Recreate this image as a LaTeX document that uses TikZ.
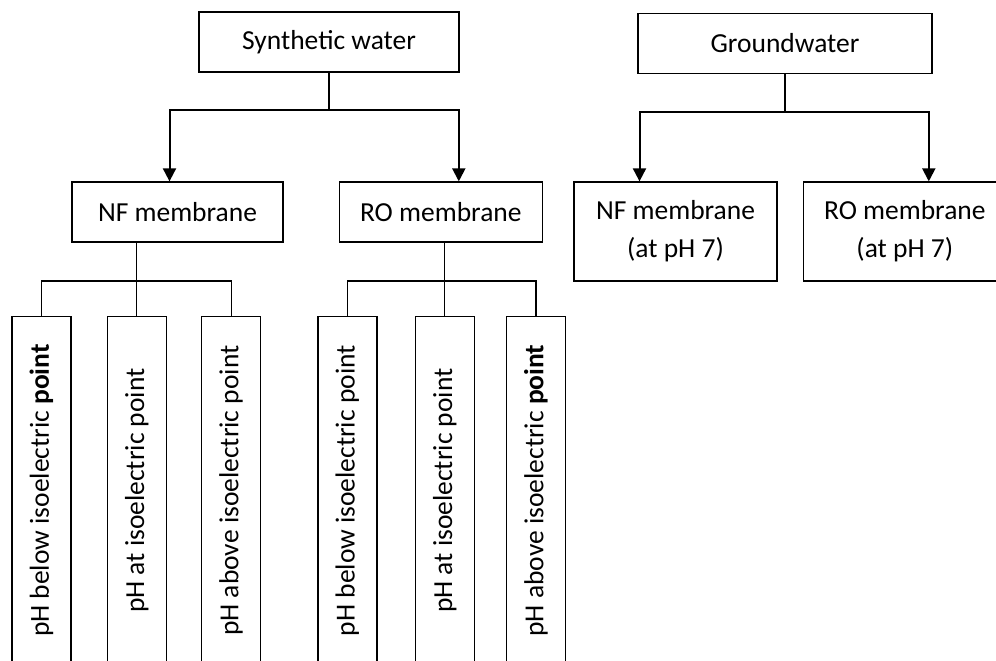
\documentclass[tikz,border=0pt]{standalone}
\usepackage{fontspec}
\setmainfont{Carlito}
\usepackage{tikz}
\usetikzlibrary{arrows.meta,positioning}

\begin{document}
\begin{tikzpicture}[
      wbox/.style={rectangle, draw, line width=0.65pt, minimum height=30pt,
        align=center, inner sep=2pt, font=\fontsize{13.75}{19}\selectfont},
      mbox/.style={rectangle, draw, line width=0.65pt, minimum height=30pt,
        align=center, inner sep=2pt, font=\fontsize{13.75}{19}\selectfont},
      phbox/.style={rectangle, draw, line width=0.65pt, minimum width=29.5pt,
        minimum height=174pt, anchor=north, inner sep=0pt,
        font=\fontsize{13.75}{15}\selectfont},
      link/.style={line width=0.6pt},
      arr/.style={-{Triangle[length=6.5pt, width=6.5pt]}, line width=1pt},
    ]
    \path[use as bounding box, clip] (0,0) rectangle (498pt,-330pt);

    % ---- Synthetic water branch ----
    \node[wbox, minimum width=130pt] (synth) at (164.5pt,-21pt) {Synthetic water};
    \node[mbox, minimum width=105.5pt] (nf1) at (88.75pt,-106pt) {NF membrane};
    \node[mbox, minimum width=101.5pt, right=27.5pt of nf1] (ro1) {RO membrane};

    \coordinate[below=18.5pt of synth] (sbus);
    \draw[link] (synth) -- (sbus);
    \draw[arr] (sbus) -| ([xshift=-4pt]nf1.north);
    \draw[arr] (sbus) -| ([xshift=9pt]ro1.north);

    % pH boxes under NF membrane
    \node[phbox] (p1) at (20.75pt,-158pt)
      {\rotatebox{90}{pH below isoelectric \textbf{point}}};
    \node[phbox, right=17.5pt of p1.north east, anchor=north west] (p2)
      {\rotatebox{90}{pH at isoelectric point}};
    \node[phbox, right=17pt of p2.north east, anchor=north west] (p3)
      {\rotatebox{90}{pH above isoelectric point}};

    % pH boxes under RO membrane
    \node[phbox, right=28pt of p3.north east, anchor=north west] (p4)
      {\rotatebox{90}{pH below isoelectric point}};
    \node[phbox, right=18.5pt of p4.north east, anchor=north west] (p5)
      {\rotatebox{90}{pH at isoelectric point}};
    \node[phbox, right=15.5pt of p5.north east, anchor=north west] (p6)
      {\rotatebox{90}{pH above isoelectric \textbf{point}}};

    \draw[link] (p2.north) -- (p2.north |- nf1.south);
    \draw[link] (p1.north) -- ++(0,17.5pt) -| (p3.north);
    \draw[link] (p5.north) -- (p5.north |- ro1.south);
    \draw[link] (p4.north) -- ++(0,17.5pt) -| (p6.north);

    % ---- Groundwater branch ----
    \node[wbox, minimum width=147pt] (ground) at (392.5pt,-21.75pt) {Groundwater};
    \node[mbox, minimum width=101.5pt, minimum height=49.5pt] (nf2)
      at (337.75pt,-115.75pt) {NF membrane\\(at pH 7)};
    \node[mbox, minimum width=101.5pt, minimum height=49.5pt, right=12.5pt of nf2]
      (ro2) {RO membrane\\(at pH 7)};

    \coordinate[below=19pt of ground] (gbus);
    \draw[link] (ground) -- (gbus);
    \draw[arr] (gbus) -| ([xshift=-18pt]nf2.north);
    \draw[arr] (gbus) -| ([xshift=12pt]ro2.north);
\end{tikzpicture}
\end{document}
